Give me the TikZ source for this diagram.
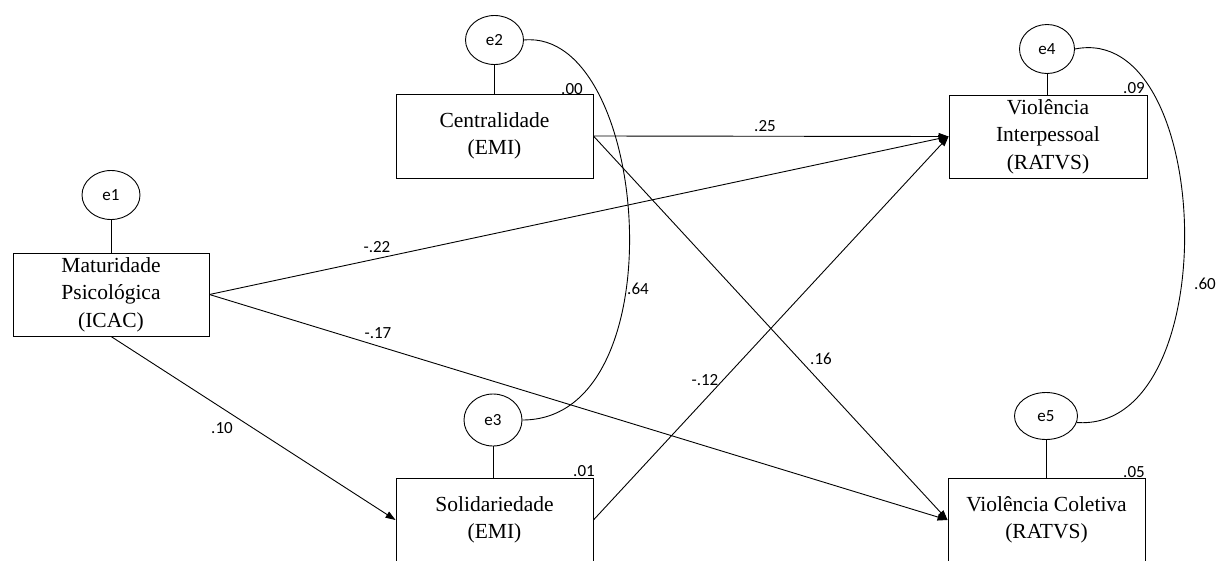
\documentclass[tikz,border=0pt]{standalone}
\usepackage{fontspec}
\setmainfont{Liberation Serif}
\newfontfamily\lblfont{Carlito}
\usetikzlibrary{arrows.meta,shapes.geometric}
\begin{document}
\begin{tikzpicture}[x=1pt,y=-1pt,
  box/.style={draw, line width=0.9pt, rectangle, minimum width=197pt, minimum height=84pt, align=center, inner sep=0pt, font=\fontsize{21.5}{27.5}\selectfont},
  err/.style={draw, line width=0.9pt, ellipse, minimum width=58pt, minimum height=49pt, inner sep=0pt, font=\lblfont\fontsize{17}{19}\selectfont},
  lbl/.style={font=\lblfont\fontsize{17}{19}\selectfont, inner sep=0pt},
  arr/.style={draw, line width=0.9pt, -{Triangle[length=10pt,width=7pt]}},
  link/.style={draw, line width=0.9pt}
]
\useasboundingbox (0,0) rectangle (1219,560);
% observed variables
\node[box, minimum width=196pt, minimum height=83pt] (mat) at (111,294.5) {Maturidade\\Psicológica\\(ICAC)};
\node[box] (cent) at (494.5,136) {Centralidade\\(EMI)};
\node[box] (sol) at (494.5,520) {Solidariedade\\(EMI)};
\node[box, minimum width=198pt, minimum height=83pt] (vi) at (1048,136.5) {Violência\\Interpessoal\\(RATVS)};
\node[box] (vc) at (1046.5,520) {Violência Coletiva\\(RATVS)};
% error terms
\node[err] (e1) at (111,195) {e1};
\node[err] (e2) at (494.5,40) {e2};
\node[err, minimum height=52pt] (e3) at (493,420) {e3};
\node[err, minimum width=55pt] (e4) at (1047,49) {e4};
\node[err, minimum width=63pt, minimum height=47pt] (e5) at (1046,416) {e5};
\draw[link] (e1.south) -- (e1.south |- mat.north);
\draw[link] (e2.south) -- (e2.south |- cent.north);
\draw[link] (e3.south) -- (e3.south |- sol.north);
\draw[link] (e4.south) -- (e4.south |- vi.north);
\draw[link] (e5.south) -- (e5.south |- vc.north);
% paths
\draw[arr] (cent.east) -- (vi.west);
\draw[arr] (cent.east) -- (vc.west);
\draw[arr] (mat.east) -- (vi.west);
\draw[arr] (mat.east) -- (vc.west);
\draw[arr] (mat.south) -- (sol.west);
\draw[arr] (sol.east) -- (vi.west);
% covariances
\draw[link] (e2.east) .. controls +(126,-12) and +(157,0) .. (e3.east);
\draw[link] (e4.east) .. controls +(140,-28) and +(150,10) .. (e5.-12);
% labels
\node[lbl] (l00) at (572,89) {.00};
\node[lbl] (l09) at (1134,88) {.09};
\node[lbl] (l01) at (584,471) {.01};
\node[lbl] (l05) at (1134,472) {.05};
\node[lbl] (l25) at (765,126) {.25};
\node[lbl] (l22) at (377,247) {-.22};
\node[lbl] (l17) at (378,333) {-.17};
\node[lbl] (l10) at (222,428) {.10};
\node[lbl] (l64) at (638,289) {.64};
\node[lbl] (l12) at (705,380) {-.12};
\node[lbl] (l16) at (821,359) {.16};
\node[lbl] (l60) at (1205,284) {.60};
\end{tikzpicture}
\end{document}
